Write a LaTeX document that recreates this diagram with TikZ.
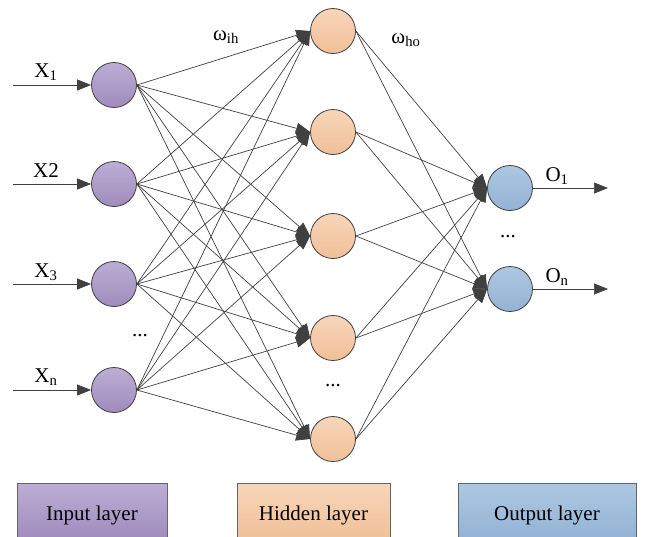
\documentclass[tikz,border=0pt]{standalone}
\usepackage{fontspec}
\setmainfont{Liberation Serif}
\usetikzlibrary{arrows.meta}
\definecolor{inT}{HTML}{BCAED4}
\definecolor{inB}{HTML}{A08BBD}
\definecolor{hdT}{HTML}{F8D6BA}
\definecolor{hdB}{HTML}{EFC098}
\definecolor{ouT}{HTML}{ADC7E2}
\definecolor{ouB}{HTML}{93B3D5}
\definecolor{ln}{HTML}{404040}
\begin{document}
\begin{tikzpicture}[x=1pt,y=-1pt,
  neuron/.style={circle,draw=ln,line width=0.8pt,minimum size=45pt,inner sep=0pt},
  inneur/.style={neuron,top color=inT,bottom color=inB},
  hdneur/.style={neuron,top color=hdT,bottom color=hdB},
  ouneur/.style={neuron,top color=ouT,bottom color=ouB},
  conn/.style={draw=ln,line width=0.7pt,-{Triangle[length=14pt,width=11pt]}},
  lbl/.style={font=\fontsize{21}{22}\selectfont,inner sep=0pt},
  legend/.style={draw=ln!80,line width=0.6pt,minimum width=150pt,minimum height=56pt,anchor=north,font=\fontsize{21}{22}\selectfont,text depth=0pt}]
\useasboundingbox (0,0) rectangle (655,536);
% legend
\node[legend,top color=inT,bottom color=inB] (li) at (92,483) {\raisebox{-3pt}{Input layer}};
\node[legend,top color=hdT,bottom color=hdB,minimum width=153pt] (lh) at (313.5,483) {\raisebox{-3pt}{Hidden layer}};
\node[legend,top color=ouT,bottom color=ouB,minimum width=178pt] (lo) at (547,483) {\raisebox{-3pt}{Output layer}};
% neurons
\node[inneur] (i1) at (114,85) {};
\node[inneur] (i2) at (114,184) {};
\node[inneur] (i3) at (114,284) {};
\node[inneur] (i4) at (114,390) {};
\node[hdneur] (h1) at (333,31) {};
\node[hdneur] (h2) at (333,132) {};
\node[hdneur] (h3) at (333,236) {};
\node[hdneur] (h4) at (333,338) {};
\node[hdneur] (h5) at (333,439) {};
\node[ouneur] (o1) at (510,188) {};
\node[ouneur] (o2) at (510,289) {};
% connections
\foreach \i in {1,...,4}{\foreach \h in {1,...,5}{\draw[conn] (i\i.east) -- (h\h.west);}}
\foreach \h in {1,...,5}{\foreach \o in {1,2}{\draw[conn] (h\h.east) -- (o\o.west);}}
% inputs
\coordinate (s1) at (13,85);
\coordinate (s2) at (13,184);
\coordinate (s3) at (13,284);
\coordinate (s4) at (13,390);
\foreach \k in {1,...,4}{\draw[conn] (s\k) -- (i\k.west);}
\node[lbl] (x1) at (46,72) {X\textsubscript{1}};
\node[lbl] (x2) at (46,171) {X2};
\node[lbl] (x3) at (46,272) {X\textsubscript{3}};
\node[lbl] (x4) at (46,377) {X\textsubscript{n}};
% outputs
\coordinate (e1) at (608,188);
\coordinate (e2) at (608,289);
\draw[conn] (o1.east) -- (e1);
\draw[conn] (o2.east) -- (e2);
\node[lbl] (ol1) at (557,176) {O\textsubscript{1}};
\node[lbl] (ol2) at (557,277) {O\textsubscript{n}};
% dots and weights
\node[lbl] (d1) at (140,336) {...};
\node[lbl] (d2) at (333,386) {...};
\node[lbl] (d3) at (508,237) {...};
\node[lbl] (wih) at (226,37) {ω\textsubscript{ih}};
\node[lbl] (who) at (406,40) {ω\textsubscript{ho}};
\end{tikzpicture}
\end{document}
